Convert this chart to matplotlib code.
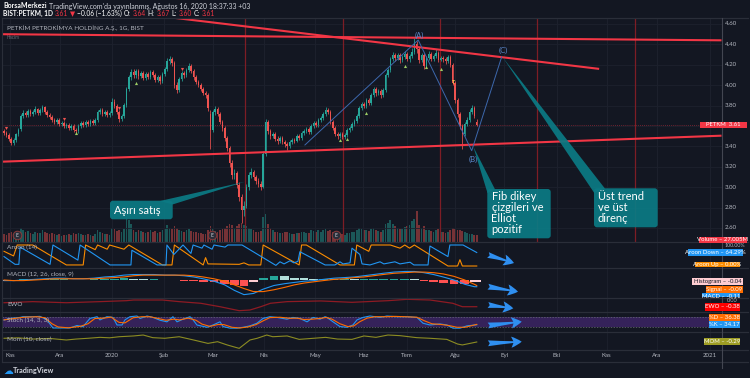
import matplotlib
matplotlib.use("Agg")
import matplotlib.pyplot as plt
import numpy as np
from matplotlib.patches import Rectangle, Polygon, FancyBboxPatch, FancyArrowPatch

plt.rcParams['font.family'] = ['Lato', 'DejaVu Sans']

# daily candles, index 0 = 29 Eki 2019 ... 197 = 14 Ağu 2020
opens = [3.55, 3.53, 3.51, 3.47, 3.43, 3.46, 3.52, 3.57, 3.70, 3.73,
         3.71, 3.75, 3.72, 3.74, 3.77, 3.73, 3.76, 3.79, 3.74, 3.71,
         3.69, 3.66, 3.64, 3.66, 3.62, 3.63, 3.60, 3.61, 3.58, 3.60,
         3.56, 3.55, 3.60, 3.63, 3.61, 3.64, 3.62, 3.65, 3.63, 3.66,
         3.74, 3.76, 3.72, 3.74, 3.71, 3.73, 3.84, 3.80, 3.74, 3.67,
         3.70, 3.81, 3.96, 4.08, 4.13, 4.10, 4.14, 4.09, 4.12, 4.07,
         4.11, 4.08, 4.13, 4.10, 4.05, 4.08, 4.04, 4.11, 4.16, 4.24,
         4.26, 4.22, 4.00, 3.95, 4.06, 4.12, 4.10, 4.15, 4.19, 4.14,
         4.08, 4.03, 4.00, 3.96, 3.92, 3.90, 3.72, 3.56, 3.74, 3.77,
         3.72, 3.64, 3.58, 3.48, 3.38, 3.24, 3.12, 3.14, 3.02, 2.90,
         2.78, 2.82, 3.00, 3.12, 3.15, 3.10, 3.06, 3.03, 3.00, 3.33,
         3.64, 3.55, 3.50, 3.52, 3.47, 3.45, 3.48, 3.44, 3.42, 3.40,
         3.44, 3.46, 3.45, 3.50, 3.48, 3.53, 3.55, 3.57, 3.54, 3.60,
         3.63, 3.61, 3.66, 3.68, 3.72, 3.76, 3.74, 3.64, 3.58, 3.52,
         3.50, 3.52, 3.49, 3.51, 3.56, 3.58, 3.62, 3.65, 3.70, 3.78,
         3.82, 3.80, 3.85, 3.83, 3.90, 3.96, 3.92, 3.94, 3.90, 3.95,
         4.10, 4.15, 4.26, 4.30, 4.27, 4.30, 4.25, 4.28, 4.31, 4.26,
         4.29, 4.33, 4.40, 4.35, 4.25, 4.30, 4.19, 4.27, 4.31, 4.26,
         4.29, 4.32, 4.25, 4.27, 4.26, 4.24, 4.28, 4.20, 4.02, 3.85,
         3.72, 3.60, 3.52, 3.62, 3.66, 3.74, 3.78, 3.64]
highs = [3.57, 3.55, 3.53, 3.49, 3.48, 3.53, 3.58, 3.72, 3.76, 3.75,
         3.77, 3.77, 3.76, 3.80, 3.78, 3.78, 3.81, 3.80, 3.76, 3.73,
         3.71, 3.68, 3.68, 3.68, 3.65, 3.65, 3.63, 3.63, 3.62, 3.62,
         3.58, 3.62, 3.65, 3.65, 3.66, 3.66, 3.67, 3.67, 3.68, 3.76,
         3.78, 3.78, 3.76, 3.76, 3.75, 3.87, 3.86, 3.82, 3.76, 3.72,
         3.83, 3.98, 4.10, 4.16, 4.16, 4.16, 4.16, 4.14, 4.14, 4.13,
         4.13, 4.15, 4.15, 4.12, 4.10, 4.10, 4.13, 4.18, 4.27, 4.29,
         4.28, 4.24, 4.03, 4.08, 4.14, 4.14, 4.17, 4.22, 4.21, 4.16,
         4.10, 4.05, 4.02, 3.98, 3.94, 3.92, 3.76, 3.76, 3.80, 3.79,
         3.74, 3.66, 3.60, 3.50, 3.40, 3.27, 3.18, 3.16, 3.05, 2.93,
         2.86, 3.03, 3.15, 3.19, 3.17, 3.12, 3.09, 3.06, 3.35, 3.67,
         3.66, 3.57, 3.54, 3.54, 3.50, 3.50, 3.50, 3.46, 3.44, 3.46,
         3.48, 3.48, 3.52, 3.52, 3.55, 3.57, 3.59, 3.59, 3.62, 3.65,
         3.65, 3.68, 3.70, 3.74, 3.79, 3.78, 3.76, 3.66, 3.60, 3.54,
         3.54, 3.54, 3.53, 3.58, 3.60, 3.64, 3.67, 3.72, 3.80, 3.84,
         3.84, 3.87, 3.87, 3.92, 3.98, 3.98, 3.96, 3.96, 3.97, 4.12,
         4.17, 4.28, 4.33, 4.32, 4.32, 4.32, 4.30, 4.34, 4.33, 4.31,
         4.36, 4.46, 4.43, 4.37, 4.32, 4.32, 4.29, 4.34, 4.33, 4.31,
         4.35, 4.34, 4.29, 4.29, 4.28, 4.30, 4.30, 4.22, 4.04, 3.87,
         3.74, 3.62, 3.64, 3.69, 3.77, 3.81, 3.80, 3.67]
lows = [3.51, 3.49, 3.45, 3.41, 3.41, 3.44, 3.50, 3.55, 3.68, 3.69,
        3.69, 3.70, 3.70, 3.72, 3.71, 3.71, 3.74, 3.72, 3.69, 3.67,
        3.64, 3.62, 3.62, 3.60, 3.60, 3.58, 3.58, 3.56, 3.56, 3.54,
        3.52, 3.53, 3.58, 3.59, 3.59, 3.60, 3.60, 3.61, 3.61, 3.64,
        3.72, 3.70, 3.70, 3.69, 3.69, 3.71, 3.78, 3.72, 3.64, 3.65,
        3.68, 3.79, 3.94, 4.05, 4.07, 4.07, 4.06, 4.07, 4.05, 4.05,
        4.06, 4.06, 4.08, 4.03, 4.03, 4.01, 4.02, 4.09, 4.14, 4.21,
        4.19, 3.97, 3.92, 3.93, 4.04, 4.07, 4.08, 4.13, 4.12, 4.05,
        4.01, 3.98, 3.94, 3.90, 3.87, 3.75, 3.37, 3.54, 3.71, 3.70,
        3.62, 3.55, 3.45, 3.35, 3.20, 3.08, 3.08, 2.99, 2.86, 2.65,
        2.72, 2.80, 2.97, 3.09, 3.07, 3.03, 3.00, 2.97, 2.99, 3.31,
        3.52, 3.47, 3.48, 3.45, 3.42, 3.43, 3.42, 3.39, 3.36, 3.38,
        3.42, 3.43, 3.44, 3.46, 3.46, 3.51, 3.53, 3.52, 3.52, 3.58,
        3.59, 3.59, 3.64, 3.66, 3.70, 3.72, 3.62, 3.56, 3.50, 3.47,
        3.48, 3.47, 3.47, 3.49, 3.54, 3.56, 3.60, 3.63, 3.68, 3.76,
        3.78, 3.78, 3.81, 3.81, 3.88, 3.89, 3.90, 3.87, 3.88, 3.93,
        4.08, 4.13, 4.24, 4.24, 4.25, 4.22, 4.23, 4.26, 4.24, 4.23,
        4.27, 4.31, 4.32, 4.22, 4.23, 4.16, 4.17, 4.25, 4.24, 4.24,
        4.27, 4.23, 4.24, 4.23, 4.21, 4.22, 4.18, 4.00, 3.83, 3.69,
        3.57, 3.37, 3.50, 3.60, 3.64, 3.72, 3.68, 3.60]
closes = [3.53, 3.51, 3.47, 3.43, 3.46, 3.52, 3.56, 3.70, 3.73, 3.71,
          3.75, 3.72, 3.74, 3.77, 3.73, 3.76, 3.79, 3.74, 3.71, 3.69,
          3.66, 3.64, 3.66, 3.62, 3.63, 3.60, 3.61, 3.58, 3.60, 3.56,
          3.55, 3.60, 3.63, 3.61, 3.64, 3.62, 3.65, 3.63, 3.66, 3.74,
          3.76, 3.72, 3.74, 3.71, 3.73, 3.84, 3.80, 3.74, 3.67, 3.70,
          3.81, 3.96, 4.08, 4.13, 4.10, 4.14, 4.09, 4.12, 4.07, 4.11,
          4.08, 4.13, 4.10, 4.05, 4.08, 4.04, 4.11, 4.16, 4.24, 4.26,
          4.22, 4.00, 3.95, 4.06, 4.12, 4.10, 4.15, 4.19, 4.14, 4.08,
          4.03, 4.00, 3.96, 3.92, 3.90, 3.78, 3.56, 3.74, 3.77, 3.72,
          3.64, 3.58, 3.48, 3.38, 3.24, 3.12, 3.14, 3.02, 2.90, 2.78,
          2.82, 3.00, 3.12, 3.15, 3.10, 3.06, 3.03, 3.00, 3.33, 3.64,
          3.55, 3.50, 3.52, 3.47, 3.45, 3.48, 3.44, 3.42, 3.40, 3.44,
          3.46, 3.45, 3.50, 3.48, 3.53, 3.55, 3.57, 3.54, 3.60, 3.63,
          3.61, 3.66, 3.68, 3.72, 3.76, 3.74, 3.64, 3.58, 3.52, 3.50,
          3.52, 3.49, 3.51, 3.56, 3.58, 3.62, 3.65, 3.70, 3.78, 3.82,
          3.80, 3.85, 3.83, 3.90, 3.96, 3.92, 3.94, 3.90, 3.95, 4.10,
          4.15, 4.26, 4.30, 4.27, 4.30, 4.25, 4.28, 4.31, 4.26, 4.29,
          4.33, 4.40, 4.35, 4.25, 4.30, 4.19, 4.27, 4.31, 4.26, 4.29,
          4.32, 4.25, 4.27, 4.26, 4.24, 4.28, 4.20, 4.02, 3.85, 3.72,
          3.60, 3.52, 3.62, 3.66, 3.74, 3.78, 3.70, 3.61]
volumes = [30, 28, 35, 40, 32, 38, 36, 55, 45, 40,
           42, 35, 30, 38, 36, 34, 45, 40, 33, 30,
           35, 32, 28, 30, 25, 28, 26, 30, 28, 34,
           32, 36, 30, 28, 26, 30, 28, 25, 30, 45,
           40, 35, 30, 32, 28, 55, 50, 42, 48, 38,
           50, 95, 85, 70, 45, 40, 48, 42, 38, 35,
           40, 45, 38, 42, 36, 40, 45, 50, 65, 55,
           50, 60, 55, 45, 42, 38, 45, 50, 42, 40,
           38, 36, 34, 32, 30, 45, 60, 50, 42, 40,
           45, 50, 55, 60, 70, 65, 55, 60, 70, 75,
           65, 60, 55, 50, 45, 40, 38, 42, 95, 110,
           70, 55, 45, 40, 38, 36, 35, 40, 38, 34,
           32, 30, 35, 33, 38, 40, 36, 34, 45, 42,
           38, 45, 40, 48, 50, 42, 45, 38, 35, 30,
           32, 30, 28, 34, 36, 40, 38, 45, 55, 50,
           45, 48, 42, 50, 55, 45, 42, 40, 45, 70,
           75, 85, 70, 60, 55, 50, 52, 58, 60, 65,
           80, 90, 120, 65, 55, 60, 48, 45, 42, 40,
           45, 50, 40, 38, 36, 40, 45, 55, 50, 45,
           48, 42, 38, 34, 30, 32, 28, 27.005]  # millions

month_pos = [2.5, 23.3, 45, 66.8, 87.2, 108.5, 129.6, 149.7, 167.8, 187.9,
             208.5, 230.3, 251.1, 272, 294.2]
month_lbl = ["Kas", "Ara", "2020", "Şub", "Mar", "Nis", "May", "Haz", "Tem", "Ağu",
             "Eyl", "Eki", "Kas", "Ara", "2021"]
price_ticks = [4.60, 4.40, 4.20, 4.00, 3.80, 3.60, 3.40, 3.20, 3.00, 2.80, 2.60]

# drawings
fib_days = [100.4, 141.2, 181.7, 222.1, 262.9]
top_line_x, top_line_y = [-1, 299], [4.50, 4.44]
fall_line_x, fall_line_y = [64, 248], [4.68, 4.16]
rise_line_x, rise_line_y = [-1, 299], [3.25, 3.505]
wave_x = [125.4, 172.6, 194.9, 207.4]
wave_y = [3.414, 4.443, 3.358, 4.279]
up_sig_x = [30, 55, 140, 143, 151, 167, 176, 182]
up_sig_y = [3.53, 4.02, 3.46, 3.47, 3.73, 4.19, 4.18, 4.16]
dn_sig_x = [1, 25, 48, 74]
dn_sig_y = [3.58, 3.67, 3.78, 4.16]
earn_x = [5.4, 86.7, 138.3]
last_price = 3.61

# indicators
aroon_up_x = [0, 4, 5.5, 12, 26, 33, 34, 38, 39, 43, 44, 50, 52, 66, 70, 71, 83, 84, 85, 98,
              100, 102, 107, 108, 123, 124, 126, 140, 146, 147, 152, 153, 161, 165, 167, 169,
              171, 185, 189, 190, 191, 197]
aroon_up = [70, 48, 100, 100, 5, 5, 100, 78, 100, 80, 100, 80, 100, 5, 5, 100, 5, 40, 10, 8,
            15, 5, 5, 100, 5, 100, 100, 5, 5, 100, 70, 100, 100, 85, 100, 85,
            100, 0, 0, 30, 0, 0]
aroon_dn_x = [0, 4.6, 6.2, 6.7, 19.2, 20.4, 30.8, 31.7, 44.2, 52.9, 53.3, 63.8, 67.5, 67.9,
              70.8, 74.6, 77.9, 78.8, 82.5, 83.3, 86.7, 87.5, 92.1, 93.3, 99.2, 113.3, 115,
              116.7, 119.2, 120.8, 122.5, 123.3, 133.8, 137.9, 140, 141.3, 144.2, 145, 148.3,
              149.2, 152.5, 156.7, 158.3, 162.9, 165, 169.2, 170.8, 176.7, 177.5, 185, 185.8,
              191.3, 197]
aroon_dn = [45, 8, 8, 90, 8, 100, 28, 100, 5, 5, 75, 5, 5, 100, 55, 100, 60, 100, 85, 100,
            80, 100, 90, 100, 100, 3, 20, 10, 25, 15, 22, 68, 5, 5, 20, 10, 15, 85, 55, 10,
            5, 20, 10, 20, 10, 18, 5, 5, 95, 45, 100, 100, 64.29]
macd_x = [0, 4, 8, 12.5, 17, 21, 25, 29, 33, 37.5, 42, 46, 50, 54, 58, 62.5, 67, 71, 75, 79,
          83, 87.5, 92, 96, 100, 104, 108, 112.5, 117, 121, 125, 129, 133, 137.5, 142, 146,
          150, 154, 158, 162.5, 167, 171, 175, 179, 183, 187.5, 192, 196, 197]
macd = [-0.01, -0.01, 0.00, 0.01, 0.02, 0.03, 0.03, 0.02, 0.02, 0.03,
        0.05, 0.06, 0.08, 0.09, 0.09, 0.09, 0.08, 0.08, 0.07, 0.05,
        0.02, -0.02, -0.08, -0.17, -0.24, -0.22, -0.15, -0.09, -0.06, -0.04,
        -0.02, -0.01, 0.01, 0.03, 0.04, 0.05, 0.07, 0.09, 0.11, 0.13,
        0.14, 0.14, 0.12, 0.09, 0.05, 0.00, -0.07, -0.11, -0.11]
signal = [0.00, -0.01, -0.01, 0.00, 0.01, 0.02, 0.02, 0.02, 0.02, 0.02,
          0.03, 0.04, 0.05, 0.07, 0.08, 0.08, 0.08, 0.08, 0.08, 0.07,
          0.05, 0.02, -0.02, -0.08, -0.14, -0.19, -0.19, -0.16, -0.12, -0.08,
          -0.05, -0.03, -0.01, 0.01, 0.02, 0.04, 0.05, 0.07, 0.09, 0.11,
          0.12, 0.13, 0.13, 0.12, 0.10, 0.06, 0.00, -0.07, -0.09]
hist = [-0.01, 0.00, 0.01, 0.01, 0.01, 0.01, 0.01, 0.00, 0.00, 0.01,
        0.02, 0.02, 0.03, 0.02, 0.01, 0.01, 0.00, 0.00, -0.01, -0.02,
        -0.03, -0.04, -0.06, -0.09, -0.10, -0.03, 0.04, 0.07, 0.06, 0.04,
        0.03, 0.02, 0.02, 0.02, 0.02, 0.01, 0.02, 0.02, 0.02, 0.02,
        0.02, 0.01, -0.01, -0.03, -0.05, -0.06, -0.07, -0.04, -0.04]
ewo_x = [0, 12, 26, 40, 51, 54, 66, 73, 82, 90, 98, 102.5, 107, 111, 118, 132, 145, 160,
         168, 177.5, 187, 191, 197]
ewo = [-0.09, -0.01, -0.09, -0.01, 0.06, 0.11, 0.11, -0.01, -0.13, -0.38, -0.67, -0.62,
       -0.38, -0.13, -0.01, 0.04, -0.06, 0.06, 0.16, 0.11, -0.13, -0.38, -0.38]
stoch_k_x = [0, 2.5, 6.7, 7.9, 12.1, 15, 17.9, 20.4, 23.3, 27.5, 30.4, 32.9, 35.8, 38.8, 40,
             42.9, 45.4, 47.1, 49.2, 50.4, 52.5, 55.4, 56.7, 59.6, 62.1, 65, 67.9, 70.4, 72.1,
             74.6, 77.5, 78.8, 80.4, 84.6, 87.1, 90, 91.3, 94.2, 97.1, 99.6, 102.5, 105.4,
             107.9, 110.8, 113.8, 117.9, 120.4, 123.3, 126.3, 128.8, 131.7, 133.8, 134.6,
             137.1, 140, 142.9, 145.4, 147.1, 149.6, 152.5, 156.7, 159.6, 163.8, 167.9, 172.1,
             174.6, 177.5, 181.7, 184.6, 187.1, 190, 192.9, 197]
stoch_k = [61, 70, 76, 80, 80, 82, 62, 16, 16, 16, 30, 23, 70, 80, 62, 80, 76, 33, 33, 62,
           80, 84, 70, 84, 76, 60, 51, 80, 51, 66, 80, 62, 33, 20, 33, 51, 24, 15, 15, 20,
           28, 43, 70, 80, 76, 66, 76, 70, 51, 76, 66, 80, 76, 51, 24, 20, 33, 62, 76, 84,
           76, 84, 80, 80, 76, 43, 33, 39, 33, 15, 15, 28, 34.17]
stoch_d_x = [0, 4.2, 8.3, 13.8, 17.1, 20, 22.5, 26.7, 31.7, 35, 37.9, 41.7, 44.6, 47.9, 50.4,
             53.8, 57.5, 60.8, 64.2, 67.5, 70.8, 73.3, 76.7, 80, 82.5, 85.8, 89.2, 91.7, 95,
             98.3, 101.7, 105, 107.9, 110.8, 115, 119.2, 122.1, 125, 128.3, 131.7, 134.2,
             136.7, 140, 143.3, 145.8, 148.3, 151.3, 154.6, 158.8, 162.9, 167.1, 172.1, 175,
             178.3, 182.1, 185.4, 188.8, 192.1, 197]
stoch_d = [62, 70, 77, 80, 74, 40, 22, 17, 25, 40, 70, 72, 78, 48, 45, 74, 80, 80, 70, 60,
           66, 62, 72, 60, 38, 25, 36, 35, 20, 16, 22, 35, 56, 75, 77, 71, 72, 64, 66, 70,
           76, 66, 40, 24, 28, 52, 72, 80, 80, 82, 80, 77, 58, 40, 36, 30, 20, 20, 36.38]
mom_x = [0, 6, 12, 19, 26, 30, 35, 40, 44, 48, 54, 58, 62, 67, 73, 79, 85, 89, 93, 98,
         102.5, 105.5, 109.5, 112, 118, 123, 129, 134, 139, 145, 150, 155, 160, 165, 172,
         177.5, 184.5, 189, 191, 197]
mom = [-0.05, -0.02, -0.10, -0.06, -0.16, -0.10, -0.05, 0.01, -0.02, 0.05,
       0.10, 0.16, -0.01, -0.05, 0.05, -0.16, -0.38, -0.27, -0.48, -0.70,
       -0.16, -0.05, 0.16, 0.05, 0.10, -0.12, -0.05, 0.01, -0.10, -0.12,
       0.10, 0.01, 0.16, 0.12, -0.01, -0.05, -0.12, -0.42, -0.48, -0.29]

BG = "#131722"
UP, DN = "#26a69a", "#ef5350"
RED = "#f23645"
GRID = "#1d212d"
SEP = "#2a2e39"
TXT = "#b2b5be"
TEAL = "#0b7a84"
W, H = 750, 378
XMIN, XMAX = -0.83, 299.2

fig = plt.figure(figsize=(7.5, 3.78), dpi=100, facecolor=BG)


def pane(y0, y1, ylim, face=BG):
    ax = fig.add_axes([2 / W, 1 - y1 / H, 720 / W, (y1 - y0) / H])
    ax.set_facecolor(face)
    ax.set_xlim(XMIN, XMAX)
    ax.set_ylim(*ylim)
    ax.set_xticks([])
    ax.set_yticks([])
    for s in ax.spines.values():
        s.set_visible(False)
    ax.vlines(month_pos, *ylim, colors=GRID, lw=0.6, zorder=0)
    return ax


o, h, l, c = map(np.array, (opens, highs, lows, closes))
idx = np.arange(len(c))
col = np.where(c >= o, UP, DN)

# volume underneath the price pane
ax_vol = pane(18, 242, (0, 865))
ax_vol.bar(idx, volumes, width=0.72, color=col, alpha=0.45, lw=0)

ax_main = pane(18, 242, (2.4627, 4.6588), face="none")
ax_main.hlines(price_ticks, XMIN, XMAX, colors=GRID, lw=0.6, zorder=0)
ax_main.vlines(fib_days, 2.4627, 4.6588, colors="#7d1d25", lw=0.9, zorder=1)
ax_main.axhline(last_price, color=RED, lw=0.6, ls=(0, (1, 1.5)), alpha=0.55, zorder=1)
ax_main.vlines(idx, l, h, colors=col, lw=0.55, zorder=3)
ax_main.bar(idx, np.maximum(np.abs(c - o), 0.006), bottom=np.minimum(o, c), width=0.62,
            color=col, lw=0, zorder=4)
ax_main.scatter(up_sig_x, up_sig_y, marker="^", s=5, color="#9ccc65", lw=0, zorder=5)
ax_main.scatter(dn_sig_x, dn_sig_y, marker="v", s=5, color=DN, lw=0, zorder=5)
ax_main.text(187.5, 4.03, "T", color="#f7c948", fontsize=4, fontweight="bold",
             ha="center", va="center", zorder=5)
for xl, yl in ((top_line_x, top_line_y), (fall_line_x, fall_line_y),
               (rise_line_x, rise_line_y)):
    ax_main.plot(xl, yl, color=RED, lw=1.5, solid_capstyle="butt", zorder=6)
ax_main.plot(wave_x, wave_y, color="#3d68ad", lw=0.7, zorder=6)
for lx, ly, s, dy in zip(wave_x[1:], wave_y[1:], ["(A)", "(B)", "(C)"], [0.045, -0.09, 0.065]):
    ax_main.text(lx + 0.6, ly + dy, s, color="#5b86c9", fontsize=5.5, ha="center",
                 va="center", zorder=6)
ax_main.scatter(earn_x, [0.03] * len(earn_x), s=38, transform=ax_main.get_xaxis_transform(),
                facecolor="#2a2e39", edgecolor="#8a3a3a", lw=0.7, zorder=7)
for ex in earn_x:
    ax_main.text(ex, 0.03, "E", transform=ax_main.get_xaxis_transform(), color="#d1d4dc",
                 fontsize=3.6, ha="center", va="center", zorder=8)
ax_main.text(5 / 720, 0.955, "PETKİM PETROKİMYA HOLDİNG A.Ş., 1G, BIST",
             transform=ax_main.transAxes, color=TXT, fontsize=4.6, va="center")
ax_main.text(5 / 720, 0.915, "Hacim", transform=ax_main.transAxes, color="#6a6d78",
             fontsize=3.3, va="center")
for p in price_ticks:
    if abs(p - last_price) < 0.05:  # hidden behind the last-price tag
        continue
    ax_main.text(1.0042, p, f"{p:.2f}", transform=ax_main.get_yaxis_transform(),
                 color=TXT, fontsize=4.4, va="center", clip_on=False)

ax_ar = pane(242, 267.5, (-7.1, 114.3))
ax_ar.plot(aroon_up_x, aroon_up, color="#fb8c00", lw=0.8)
ax_ar.plot(aroon_dn_x, aroon_dn, color="#2196f3", lw=0.8)
ax_ar.text(5 / 720, 0.78, "Aroon (14)", transform=ax_ar.transAxes, color=TXT, fontsize=4.6,
           va="center")

ax_m = pane(267.5, 297.7, (-0.29, 0.205))
hv = np.array(hist)
prev = np.r_[hv[0], hv[:-1]]
hcol = np.where(hv >= 0, np.where(hv >= prev, "#26a69a", "#b2dfdb"),
                np.where(hv < prev, "#ff5252", "#ffcdd2"))
ax_m.bar(macd_x, hv, width=3.7, color=hcol, lw=0)
ax_m.plot(macd_x, macd, color="#2196f3", lw=0.8)
ax_m.plot(macd_x, signal, color="#ff6d00", lw=0.8)
ax_m.text(5 / 720, 0.76, "MACD (12, 26, close, 9)", transform=ax_m.transAxes, color=TXT,
          fontsize=4.6, va="center")

ax_e = pane(297.7, 312, (-0.766, 0.277))
ax_e.plot(ewo_x, ewo, color="#8e1b24", lw=0.9)
ax_e.text(5 / 720, 0.52, "EWO", transform=ax_e.transAxes, color=TXT, fontsize=4.6,
          va="center")

ax_s = pane(312, 332, (-6.8, 106.8))
ax_s.axhspan(20, 80, color="#35225a", lw=0, zorder=0.5)
ax_s.axhline(80, color="#6a6d78", lw=0.5, ls=(0, (2, 2)))
ax_s.axhline(20, color="#6a6d78", lw=0.5, ls=(0, (2, 2)))
ax_s.plot(stoch_k_x, stoch_k, color="#2196f3", lw=0.8)
ax_s.plot(stoch_d_x, stoch_d, color="#ff6d00", lw=0.8)
ax_s.text(5 / 720, 0.6, "Stoch (14, 3, 3)", transform=ax_s.transAxes, color=TXT,
          fontsize=4.6, va="center")

ax_mo = pane(332, 350, (-0.806, 0.355))
ax_mo.plot(mom_x, mom, color="#8c8c22", lw=0.8)
ax_mo.text(5 / 720, 0.6, "Mom (10, close)", transform=ax_mo.transAxes, color=TXT,
           fontsize=4.6, va="center")
for mp, ml in zip(month_pos, month_lbl):
    ax_mo.text(mp, -0.33, ml, transform=ax_mo.get_xaxis_transform(), color=TXT,
               fontsize=4.4, ha="center", va="center", clip_on=False)

# overlay in pixel units for frame, header, callouts and tags
ov = fig.add_axes([0, 0, 1, 1])
ov.set_xlim(0, W)
ov.set_ylim(H, 0)
ov.axis("off")
ov.patch.set_alpha(0)

for yy in (18, 242, 267.5, 297.7, 312, 332, 350, 362):
    ov.plot([2, 748], [yy, yy], color=SEP, lw=0.9)
ov.plot([722, 722], [18, 368], color="#434651", lw=0.8)
ov.plot([2, 2], [18, 362], color=SEP, lw=0.8)

t = ov.text(3, 6, "BorsaMerkezi", color="white", fontsize=5, fontweight="bold", va="center")
ov.annotate("TradingView.com'da yayınlanmış, Ağustos 16, 2020 18:37:33 +03", xy=(1, 0.5),
            xycoords=t, xytext=(1.4, 0), textcoords="offset points", va="center",
            color="#d1d4dc", fontsize=5)
parts = [("BIST:PETKM, 1D", "white"), ("3.61", RED), ("▼", RED), ("−0.06 (−1.63%)", "white"),
         ("O:", "white"), ("3.64", RED), ("H:", "white"), ("3.67", RED), ("L:", "white"),
         ("3.60", RED), ("C:", "white"), ("3.61", RED)]
t = ov.text(3, 13.2, parts[0][0], color=parts[0][1], fontsize=4.8, fontweight="bold",
            va="center")
for s, cc in parts[1:]:
    t = ov.annotate(s, xy=(1, 0.5), xycoords=t, xytext=(1.4, 0), textcoords="offset points",
                    va="center", color=cc, fontsize=4.8)


def callout(box, wedge, lines, tx, ty0):
    x0, y0, x1, y1 = box
    ov.add_patch(FancyBboxPatch((x0, y0), x1 - x0, y1 - y0, boxstyle="round,pad=0,rounding_size=3",
                                fc=TEAL, ec="none", alpha=0.93, zorder=10))
    ov.add_patch(Polygon(wedge, closed=True, fc=TEAL, ec="none", alpha=0.93, zorder=10))
    for k, s in enumerate(lines):
        ov.text(tx, ty0 + 10.7 * k, s, color="white", fontsize=8, va="baseline", zorder=11)


callout((110, 200.7, 172.7, 219.3), [(160, 201), (172.5, 204.5), (245, 181.7)],
        ["Aşırı satış"], 113.5, 214)
callout((487.3, 189, 550.7, 238.3), [(487.5, 193), (495, 189.3), (473.3, 146.7)],
        ["Fib dikey", "çizgileri ve", "Elliot", "pozitif"], 491.5, 200.5)
callout((594, 188.3, 657.7, 227.3), [(594.3, 193), (605, 188.6), (502.7, 57.3)],
        ["Üst trend", "ve üst", "direnç"], 598, 200.5)

for (xa, ya), (xb, yb) in [((488, 255), (514, 263)), ((488, 286.7), (518, 291.7)),
                           ((488, 305), (513.3, 308.3)), ((488, 325.5), (521.7, 321.7)),
                           ((488, 343.3), (521.7, 341.7))]:
    ov.add_patch(FancyArrowPatch((xa, ya), (xb, yb), shrinkA=0, shrinkB=0, mutation_scale=10,
                                 arrowstyle="fancy,head_length=0.75,head_width=0.8,tail_width=0.42",
                                 fc="#2f8ff0", ec="none", zorder=10))


def tag(box, color, s, tcolor="white", clip=False):
    x0, y0, x1, y1 = box
    r = Rectangle((x0, y0), x1 - x0, y1 - y0, fc=color, ec="none", zorder=12)
    ov.add_patch(r)
    tt = ov.text((x0 + x1) / 2, (y0 + y1) / 2 + (1.2 if clip else 0), s, color=tcolor,
                 fontsize=4.3, ha="center", va="center", zorder=13)
    if clip:
        tt.set_clip_path(r)


tag((700, 121.7, 746.7, 128.3), RED, f"PETKM  {last_price:.2f}")
tag((699, 236.7, 746.7, 242.5), RED, f"Volume – {volumes[-1]:.3f}M")
tag((688.3, 248.7, 743.3, 256), "#2196f3", f"Aroon Down – {aroon_dn[-1]:.2f}%")
tag((695, 261.7, 740, 267.3), "#fb8c00", f"Aroon Up – {aroon_up[-1]:.2f}%")
tag((692.3, 277.7, 743.3, 285), "#ffcdd2", f"Histogram – {hist[-1]:.2f}", tcolor="#131722")
tag((705.7, 286, 743.3, 292.7), "#ff6d00", f"Signal – {signal[-1]:.2f}")
tag((702.3, 293.3, 740, 297.4), "#2196f3", f"MACD – {macd[-1]:.2f}", clip=True)
tag((705, 303.3, 740, 310.7), "#ff0000", f"EWO – {ewo[-1]:.2f}")
tag((709, 314, 740, 320.7), "#ff6d00", f"%D – {stoch_d[-1]:.2f}")
tag((709, 321.3, 740, 328.3), "#2196f3", f"%K – {stoch_k[-1]:.2f}")
tag((704.3, 338.3, 740, 345), "#9e9d24", f"MOM – {mom[-1]:.2f}")
ov.text(725, 245.2, "100.00%", color=TXT, fontsize=3.8, va="center", zorder=11)
ov.text(727, 300.4, "0.00", color=TXT, fontsize=4, va="center", zorder=11)

ov.text(3, 370.5, "☁", color="#2196f3", fontsize=7, va="center", family=["DejaVu Sans"])
ov.text(13, 370.5, "TradingView", color="#d1d4dc", fontsize=5.2, fontweight="bold", va="center")

fig.savefig("out.png", dpi=100, facecolor=BG)
